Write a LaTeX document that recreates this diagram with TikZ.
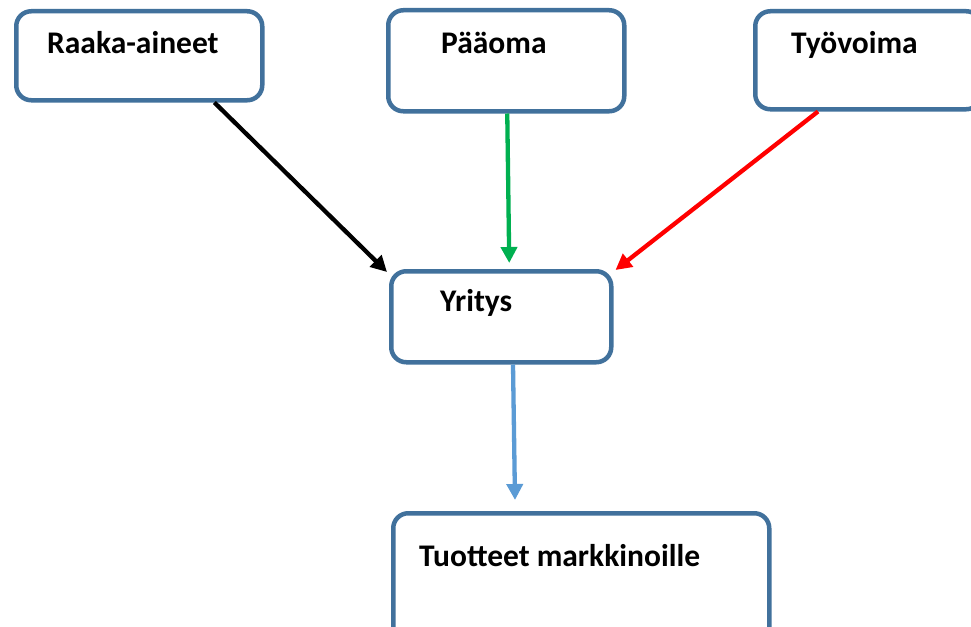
\documentclass[tikz,border=0pt]{standalone}
\usepackage{fontspec}
\setmainfont{Carlito}
\usetikzlibrary{arrows.meta,calc}
\definecolor{boxblue}{HTML}{41719C}
\definecolor{arrblue}{HTML}{5B9BD5}
\definecolor{arrgreen}{HTML}{00B050}
\definecolor{arrred}{HTML}{FF0000}
\begin{document}
\begin{tikzpicture}[x=1pt,y=-1pt,
  box/.style={draw=boxblue, line width=4.5pt, rounded corners=15pt, fill=white, anchor=north west, inner sep=0pt},
  lbl/.style={anchor=base west, inner sep=0pt, font=\fontsize{31.5}{37}\selectfont\bfseries},
  conn/.style={line width=4.3pt, -{Triangle[length=16pt,width=16pt]}}]
\useasboundingbox (0,0) rectangle (971,626);
\clip (0,0) rectangle (971,626);
\fill[white] (0,0) rectangle (971,626);
% boxes
\node[box, minimum width=246pt, minimum height=89pt] (raaka) at (14,9) {};
\node[box, minimum width=236pt, minimum height=101pt] (paaoma) at (386,8) {};
\node[box, minimum width=226pt, minimum height=98pt] (tyo) at (753,9) {};
\node[box, minimum width=220pt, minimum height=91pt] (yritys) at (389,269) {};
\node[box, minimum width=376pt, minimum height=130pt] (tuotteet) at (391,511) {};
% labels
\node[lbl] (traaka) at (47,54) {Raaka-aineet};
\node[lbl] (tpaaoma) at (441,54) {Pääoma};
\node[lbl] (ttyo) at (791,54) {Työvoima};
\node[lbl] (tyritys) at (440,311) {Yritys};
\node[lbl] (ttuotteet) at (419,566) {Tuotteet markkinoille};
% connectors
\coordinate (bs) at ($(raaka.south west)!0.80!(raaka.south east)$);
\coordinate (be) at ($(yritys.north west)+(-2,3)$);
\draw[conn, black] (bs) -- (be);
\coordinate (gs) at ($(paaoma.south)+(1,0)$);
\coordinate (ge) at ($(yritys.north)+(8,-6)$);
\draw[conn, arrgreen] (gs) -- (ge);
\coordinate (rs) at ($(tyo.south west)+(65,0)$);
\coordinate (re) at ($(yritys.north east)+(2,1)$);
\draw[conn, arrred] (rs) -- (re);
\coordinate (ls) at ($(yritys.south west)+(124,0)$);
\coordinate (le) at ($(tuotteet.north west)+(124,-11)$);
\draw[conn, arrblue] (ls) -- (le);
\end{tikzpicture}
\end{document}
